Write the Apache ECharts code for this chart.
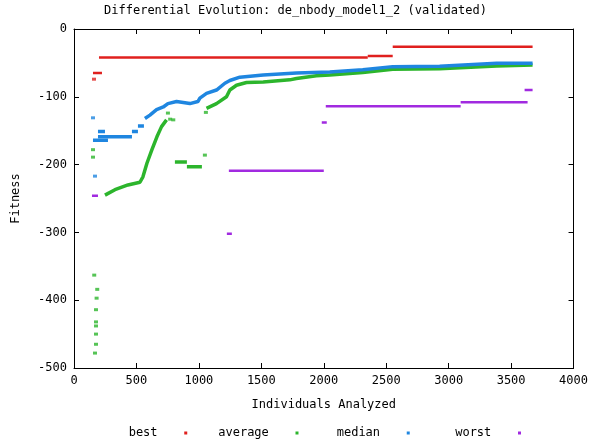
<!DOCTYPE html>
<html>
<head>
<meta charset="utf-8">
<script src="https://cdn.jsdelivr.net/npm/echarts@6/dist/echarts.min.js"></script>
<style>
  html, body { margin: 0; padding: 0; background: #fff; }
  #chart { width: 591px; height: 444px; }
</style>
</head>
<body>
<div id="chart"></div>
<script>
// isolated points and dense runs (runs are drawn as short thick lines)
const bestDots = [[160, -74]]
const bestRuns = [
    [[152, -65], [224, -65]],
    [[200, -42], [2352, -42]],
    [[2352, -40], [2552, -40]],
    [[2552, -26], [3672, -26]]
]

const averageDots = [[152, -178], [152, -189], [162, -363], [186, -384], [181, -397], [176, -414], [176, -432],
    [176, -438], [176, -450], [176, -465], [168, -478], [752, -124], [770, -133], [795, -134], [1048, -186], [1056, -123]]
const averageRuns = [
    [[248, -245], [328, -237], [432, -230], [528, -226], [552, -218], [584, -198], [624, -178], [664, -159], [701, -144], [741, -134]],
    [[808, -196], [904, -196]],
    [[904, -203], [1024, -203]],
    [[1061, -117], [1141, -110], [1221, -100], [1248, -90], [1301, -83], [1381, -79], [1515, -78], [1728, -75], [1781, -73],
        [1941, -69], [2048, -68], [2312, -64], [2552, -59.5], [2928, -58.5], [3384, -54.6], [3672, -53]]
]

const medianDots = [[152, -131], [168, -217]]
const medianRuns = [
    [[152, -164], [272, -164]],
    [[192, -151], [248, -151]],
    [[192, -159], [464, -159]],
    [[464, -151], [512, -151]],
    [[512, -143], [560, -143]],
    [[568, -132], [608, -127], [661, -119], [715, -115], [752, -110], [821, -107], [928, -110], [992, -107], [1008, -102],
        [1061, -95], [1141, -90], [1208, -80], [1248, -76], [1328, -71], [1515, -68], [1781, -65], [2048, -63.5],
        [2312, -60], [2552, -55.5], [2928, -55], [3384, -50.6], [3672, -50.6]]
]

const worstDots = []
const worstRuns = [
    [[144, -246], [192, -246]],
    [[1224, -302], [1264, -302]],
    [[1240, -209], [2000, -209]],
    [[1984, -138], [2024, -138]],
    [[2016, -114], [3096, -114]],
    [[3096, -108], [3632, -108]],
    [[3608, -90], [3672, -90]]
]

const xTicks = { min: 0, max: 4000, interval: 500 }
const yTicks = { min: -500, max: 0, interval: 100 }

const font = 'DejaVu Sans Mono'

function makeSeries(name, color, dots, runs, width) {
    const list = runs.map(run => ({
        name: name,
        type: 'line',
        data: run,
        showSymbol: false,
        symbol: 'none',
        lineStyle: { color: color, width: width },
        itemStyle: { color: color },
        animation: false
    }))
    list.push({
        name: name,
        type: 'scatter',
        data: dots,
        symbol: 'rect',
        symbolSize: [4, 3],
        itemStyle: { color: color },
        animation: false
    })
    return list
}

const colors = { best: '#e0201e', average: '#2cb52c', median: '#1f86e0', worst: '#a12ae0' }

const series = [].concat(
    makeSeries('best', colors.best, bestDots, bestRuns, 2.5),
    makeSeries('average', colors.average, averageDots, averageRuns, 3.5),
    makeSeries('median', colors.median, medianDots, medianRuns, 3.5),
    makeSeries('worst', colors.worst, worstDots, worstRuns, 2.5)
)

const axisCommon = {
    axisLine: { show: true, onZero: false, lineStyle: { color: '#000', width: 1 } },
    axisTick: { show: true, inside: true, length: 5, lineStyle: { color: '#000' } },
    splitLine: { show: false }
}

const chart = echarts.init(document.getElementById('chart'))
chart.setOption({
    animation: false,
    title: {
        text: 'Differential Evolution: de_nbody_model1_2 (validated)',
        left: 'center',
        top: 0,
        textStyle: { fontFamily: font, fontSize: 12, fontWeight: 'normal', color: '#000' }
    },
    grid: { left: 74, right: 17, top: 29, bottom: 76 },
    legend: {
        data: ['best', 'average', 'median', 'worst'].map(n => ({ name: n, icon: 'rect' })),
        left: 102,
        top: 422,
        align: 'right',
        itemWidth: 3,
        itemHeight: 3,
        itemGap: 31,
        formatter: n => n.padStart(7, ' ') + '   ',
        textStyle: { fontFamily: font, fontSize: 12, color: '#000' }
    },
    xAxis: [
        Object.assign({
            type: 'value',
            position: 'bottom',
            name: 'Individuals Analyzed',
            nameLocation: 'middle',
            nameGap: 31,
            nameTextStyle: { fontFamily: font, fontSize: 12, color: '#000' },
            axisLabel: { fontFamily: font, fontSize: 12, color: '#000', margin: 7, formatter: v => String(v) }
        }, xTicks, axisCommon),
        Object.assign({
            type: 'value',
            position: 'top',
            axisLabel: { show: false }
        }, xTicks, axisCommon)
    ],
    yAxis: [
        Object.assign({
            type: 'value',
            position: 'left',
            name: 'Fitness',
            nameLocation: 'middle',
            nameGap: 52,
            nameRotate: 90,
            nameTextStyle: { fontFamily: font, fontSize: 12, color: '#000' },
            axisLabel: { fontFamily: font, fontSize: 12, color: '#000', margin: 7, formatter: v => String(v) }
        }, yTicks, axisCommon),
        Object.assign({
            type: 'value',
            position: 'right',
            axisLabel: { show: false }
        }, yTicks, axisCommon)
    ],
    series: series
})
</script>
</body>
</html>
